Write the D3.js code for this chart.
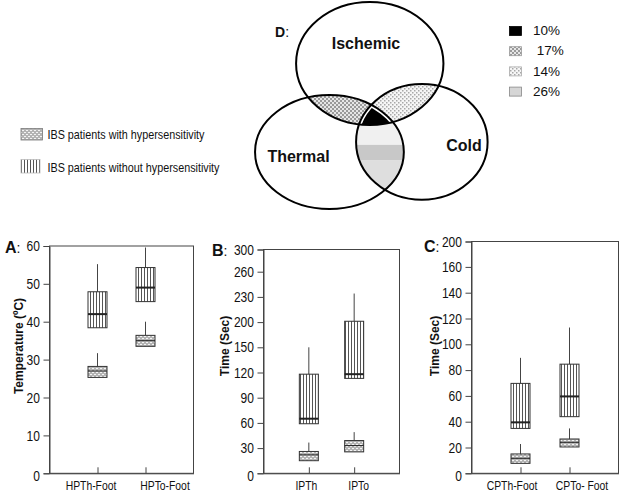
<!DOCTYPE html>
<html><head><meta charset="utf-8">
<script src="https://cdn.jsdelivr.net/npm/d3@7"></script>
<style>
body{margin:0;background:#fff}
svg{display:block}
text{font-family:"Liberation Sans",Arial,sans-serif;fill:#111}
</style>
</head><body><svg id="c" width="624" height="494"></svg>
<script>
// ---------------- data ----------------
// box stats per category: [q1, median, q3, upper whisker]
const catsA = ["HPTh-Foot", "HPTo-Foot"];
const ticksA = [0, 10, 20, 30, 40, 50, 60];
const aWithout = [[38.4, 42.0, 47.9, 55.2], [45.3, 49.0, 54.3, 59.6]];
const aWith = [[25.3, 27.0, 28.2, 31.7], [33.5, 35.0, 36.4, 40.0]];

const catsB = ["IPTh", "IPTo"];
const ticksB = [0, 30, 60, 90, 120, 150, 200, 230, 260, 300];
const bWithout = [[59, 65, 118, 150], [113, 118, 201, 234]];
const bWith = [[15, 22, 26, 36.6], [25.5, 33, 39, 49]];

const catsC = ["CPTh-Foot", "CPTo- Foot"];
const ticksC = [0, 20, 40, 60, 80, 100, 120, 140, 160, 200];
const cWithout = [[34.8, 39.5, 69.7, 89.5], [43.9, 59.6, 84.6, 113]];
const cWith = [[7.7, 11.6, 15.0, 22.7], [20.4, 24.0, 26.6, 34.8]];

const groupLabels = ["IBS patients with hypersensitivity", "IBS patients without hypersensitivity"];
const vennNames = ["Ischemic", "Thermal", "Cold"];
const regionPct = ["10%", " 17%", "14%", "26%"];

// ---------------- drawing ----------------
const svg = d3.select("#c");
const defs = svg.append("defs");
const SQ = 0.83; // horizontal squeeze to mimic the condensed face of the original

// patterns
const pw = defs.append("pattern").attr("id", "pWithout").attr("patternUnits", "userSpaceOnUse")
  .attr("width", 3).attr("height", 10);
pw.append("rect").attr("width", 3).attr("height", 10).attr("fill", "#fff");
pw.append("rect").attr("x", 0).attr("width", 1).attr("height", 10).attr("fill", "#555");

const ph = defs.append("pattern").attr("id", "pWith").attr("patternUnits", "userSpaceOnUse")
  .attr("width", 4).attr("height", 4);
ph.append("rect").attr("width", 4).attr("height", 4).attr("fill", "#b4b4b4");
ph.append("rect").attr("x", 0).attr("y", 0).attr("width", 2).attr("height", 1).attr("fill", "#f4f4f4");
ph.append("rect").attr("x", 2).attr("y", 2).attr("width", 2).attr("height", 1).attr("fill", "#f4f4f4");

const p17 = defs.append("pattern").attr("id", "p17").attr("patternUnits", "userSpaceOnUse")
  .attr("width", 4).attr("height", 4);
p17.append("rect").attr("width", 4).attr("height", 4).attr("fill", "#e6e6e6");
p17.append("rect").attr("width", 2).attr("height", 2).attr("fill", "#9a9a9a");
p17.append("rect").attr("x", 2).attr("y", 2).attr("width", 2).attr("height", 2).attr("fill", "#9a9a9a");

const p14 = defs.append("pattern").attr("id", "p14").attr("patternUnits", "userSpaceOnUse")
  .attr("width", 4).attr("height", 4);
p14.append("rect").attr("width", 4).attr("height", 4).attr("fill", "#f6f6f6");
p14.append("rect").attr("width", 1.5).attr("height", 1.5).attr("fill", "#a8a8a8");
p14.append("rect").attr("x", 2).attr("y", 2).attr("width", 1.5).attr("height", 1.5).attr("fill", "#a8a8a8");

// ---- box panels ----
const bottom = 473.3;
const panels = [
  {key: "A", cats: catsA, ticks: ticksA, without: aWithout, withH: aWith, title: "Temperature (ºC)",
   left: 49.5, right: 193.5, top: 246, step: 37.9, lx: 5, ly: 253, tx: 23, dx: [-7, 19]},
  {key: "B", cats: catsB, ticks: ticksB, without: bWithout, withH: bWith, title: "Time (Sec)",
   left: 263.5, right: 399.5, top: 249.5, step: 25.2, lx: 212, ly: 256, tx: 229, dx: [-3, 4]},
  {key: "C", cats: catsC, ticks: ticksC, without: cWithout, withH: cWith, title: "Time (Sec)",
   left: 471.5, right: 618.5, top: 241.5, step: 25.8, lx: 424, ly: 251.5, tx: 439, dx: [-9, 12]}
];

panels.forEach(p => {
  const n = p.ticks.length;
  const y = d3.scaleLinear().domain(p.ticks)
    .range(p.ticks.map((t, i) => i === n - 1 ? p.top : bottom - i * p.step));
  const x = d3.scalePoint().domain(p.cats).range([p.left, p.right]).padding(1);
  const g = svg.append("g");

  // frame
  g.append("rect").attr("x", p.left).attr("y", p.top).attr("width", p.right - p.left)
    .attr("height", bottom - p.top).attr("fill", "none").attr("stroke", "#444").attr("stroke-width", 1);

  // y axis
  const ya = g.append("g").attr("transform", `translate(${p.left},0)`)
    .call(d3.axisLeft(y).tickValues(p.ticks).tickSize(6).tickPadding(3).tickFormat(d3.format("d")));
  ya.select(".domain").attr("stroke", "#444");
  ya.selectAll(".tick line").attr("stroke", "#444");
  ya.selectAll("text").attr("font-size", 14.5).attr("fill", "#222").attr("font-family", null)
    .attr("x", -9.5 / SQ).attr("transform", `scale(${SQ},1)`);
  ya.selectAll(".tick").filter(d => d === 0).select("text").attr("dy", "0.5em");

  // x axis
  const xa = g.append("g").attr("transform", `translate(0,${bottom})`)
    .call(d3.axisBottom(x).tickSizeInner(-6).tickSizeOuter(0).tickPadding(8));
  xa.select(".domain").attr("stroke", "#444");
  xa.selectAll(".tick line").attr("stroke", "#444");
  xa.selectAll("text").attr("font-size", 12.5).attr("fill", "#222").attr("font-family", null)
    .attr("x", (d, i) => p.dx[i] / SQ).attr("transform", `scale(${SQ},1)`);

  // panel letter
  const lt = g.append("text").attr("x", p.lx).attr("y", p.ly).attr("font-size", 16);
  lt.append("tspan").attr("font-weight", "bold").text(p.key);
  lt.append("tspan").attr("font-size", 14).text(":");

  // axis title
  g.append("text").attr("transform", `translate(${p.tx},346) rotate(-90)`)
    .attr("text-anchor", "middle").attr("font-weight", "bold").attr("font-size", 12).text(p.title);

  const bw = 19;
  const drawBoxes = (stats, fill, medW) => {
    const bg = g.append("g");
    stats.forEach((s, i) => {
      const cx = x(p.cats[i]);
      bg.append("line").attr("x1", cx).attr("x2", cx).attr("y1", y(s[2])).attr("y2", y(s[3]))
        .attr("stroke", "#444").attr("stroke-width", 1);
      bg.append("rect").attr("x", cx - bw / 2).attr("y", y(s[2])).attr("width", bw)
        .attr("height", y(s[0]) - y(s[2])).attr("fill", fill).attr("stroke", "#333").attr("stroke-width", 1);
      bg.append("line").attr("x1", cx - bw / 2).attr("x2", cx + bw / 2).attr("y1", y(s[1])).attr("y2", y(s[1]))
        .attr("stroke", "#222").attr("stroke-width", medW);
    });
  };
  drawBoxes(p.without, "url(#pWithout)", 2);
  drawBoxes(p.withH, "url(#pWith)", 1);
});

// ---- box legend ----
const leg = svg.append("g");
const legFills = ["url(#pWith)", "url(#pWithout)"];
groupLabels.forEach((lab, i) => {
  const yy = i === 0 ? 128.5 : 159.5;
  leg.append("rect").attr("x", 21).attr("y", yy).attr("width", i === 0 ? 21.5 : 19).attr("height", i === 0 ? 11.5 : 13.5)
    .attr("fill", legFills[i]).attr("stroke", i === 0 ? "#777" : "#bbb").attr("stroke-width", 0.8);
  leg.append("text").attr("transform", `translate(47.5,${i === 0 ? 138.5 : 172}) scale(${SQ},1)`)
    .attr("font-size", 13).text(lab);
});

// ---- Venn diagram ----
const vx = d3.scaleLinear().domain([0, 100]).range([250, 490]);
const vy = d3.scaleLinear().domain([0, 100]).range([0, 215]);
const ell = [
  {cx: 49.9, cy: 29.5, rx: 30.7, ry: 28.6},   // Ischemic
  {cx: 33.1, cy: 70.7, rx: 31.0, ry: 26.5},   // Thermal
  {cx: 71.6, cy: 66.0, rx: 27.4, ry: 26.9}    // Cold
];
const ellAttrs = (sel, e) => sel.attr("cx", vx(e.cx)).attr("cy", vy(e.cy))
  .attr("rx", vx(e.rx) - vx(0)).attr("ry", vy(e.ry) - vy(0));
const clipIds = ["clipI", "clipT", "clipC"];
ell.forEach((e, i) => {
  defs.append("clipPath").attr("id", clipIds[i]).append("ellipse").call(ellAttrs, e);
});
const venn = svg.append("g");
// 17%: Ischemic ∩ Thermal
venn.append("g").attr("clip-path", "url(#clipT)").append("ellipse").call(ellAttrs, ell[0]).attr("fill", "url(#p17)");
// 14%: Ischemic ∩ Cold
venn.append("g").attr("clip-path", "url(#clipC)").append("ellipse").call(ellAttrs, ell[0]).attr("fill", "url(#p14)");
// 26%: Thermal ∩ Cold
const tc = venn.append("g").attr("clip-path", "url(#clipC)").append("g").attr("clip-path", "url(#clipT)");
tc.append("ellipse").call(ellAttrs, ell[1]).attr("fill", "#f0f0f0");
tc.append("rect").attr("x", vx(40)).attr("y", vy(67.4)).attr("width", vx(70) - vx(40)).attr("height", vy(74.5) - vy(67.4)).attr("fill", "#c8c8c8");
tc.append("rect").attr("x", vx(40)).attr("y", vy(74.5)).attr("width", vx(70) - vx(40)).attr("height", vy(100) - vy(74.5)).attr("fill", "#dedede");
// 10%: triple intersection
const tri = venn.append("g").attr("clip-path", "url(#clipC)").append("g").attr("clip-path", "url(#clipT)")
  .append("g").attr("clip-path", "url(#clipI)");
tri.append("rect").attr("x", vx(40)).attr("y", vy(40)).attr("width", vx(70) - vx(40)).attr("height", vy(70) - vy(40)).attr("fill", "#000");
ell.slice(1).forEach(e => tri.append("ellipse").call(ellAttrs, e).attr("fill", "none").attr("stroke", "#fff").attr("stroke-width", 5));
// outlines
ell.forEach(e => venn.append("ellipse").call(ellAttrs, e).attr("fill", "none").attr("stroke", "#000").attr("stroke-width", 2));

// labels
const vLabPos = [[366, 48.5], [298.5, 161.5], [464, 150.5]];
vennNames.forEach((nm, i) => {
  venn.append("text").attr("x", vLabPos[i][0]).attr("y", vLabPos[i][1]).attr("text-anchor", "middle")
    .attr("font-weight", "bold").attr("font-size", 16).text(nm);
});
const dl = venn.append("text").attr("x", 275).attr("y", 37).attr("font-size", 14);
dl.append("tspan").attr("font-weight", "bold").text("D");
dl.append("tspan").text(":");

// venn legend
const vFills = ["#000", "url(#p17)", "url(#p14)", "#d6d6d6"];
const vStroke = ["#000", "#999", "#aaa", "#888"];
regionPct.forEach((t, i) => {
  venn.append("rect").attr("x", 509.5).attr("y", 26.5 + i * 20.2).attr("width", 12).attr("height", 9)
    .attr("fill", vFills[i]).attr("stroke", vStroke[i]).attr("stroke-width", 0.8);
  venn.append("text").attr("x", 533).attr("y", 35.2 + i * 20.2).attr("font-size", 13.5)
    .style("white-space", "pre").text(t);
});
</script>
</body></html>
